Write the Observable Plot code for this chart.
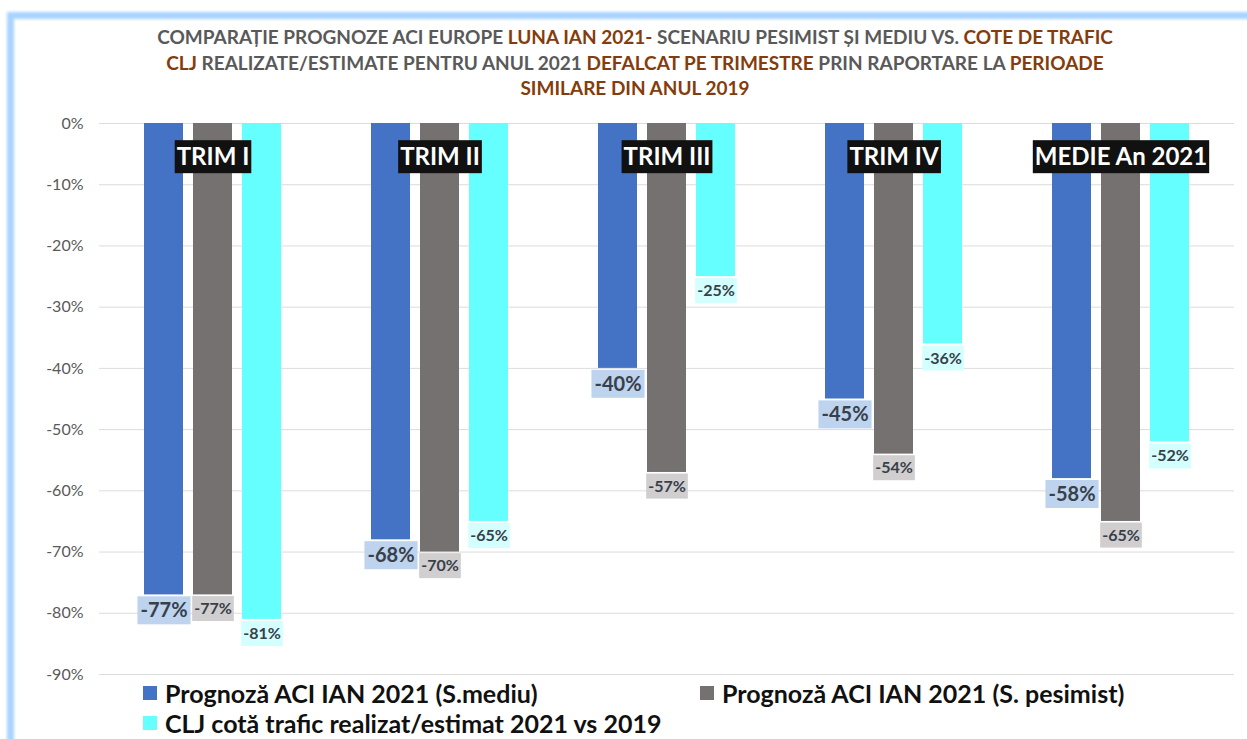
<!DOCTYPE html>
<html>
<head>
<meta charset="utf-8">
<script src="https://cdn.jsdelivr.net/npm/d3@7"></script>
<script src="https://cdn.jsdelivr.net/npm/@observablehq/plot@0.6"></script>
<style>
  html, body { margin: 0; padding: 0; background: #fff; overflow: hidden; width: 1247px; height: 739px; }
  #frame { position: absolute; left: 7px; top: 12px; width: 1400px; height: 900px;
           border-left: 7px solid #A9D3FF; border-top: 7px solid #A9D3FF; filter: blur(1.5px); }
  #title { position: absolute; left: 14px; top: 24px; width: 1242px; text-align: center;
           font-family: Lato, sans-serif; font-weight: 700; font-size: 19px; line-height: 25.5px;
           color: #595959; }
  #title .ln { display: inline-block; white-space: nowrap; }
  #title .hl { color: #843C0C; }
  #chart { position: absolute; left: 0; top: 110px; }
  #legend { position: absolute; left: 143px; top: 678px; display: grid;
            grid-template-columns: 557px auto; font-family: Lato, sans-serif; font-weight: 700;
            font-size: 25px; line-height: 30px; color: #111; }
  #legend .it { display: flex; align-items: center; white-space: nowrap; }
  #legend .sw { width: 14px; height: 14px; margin-right: 8px; flex: none; }
</style>
</head>
<body>
<div id="frame"></div>
<div id="title"></div>
<div id="chart"></div>
<div id="legend"></div>
<script>
// ---- data ----
const categories = ["TRIM I", "TRIM II", "TRIM III", "TRIM IV", "MEDIE An 2021"];
const series = [
  "Prognoză ACI IAN 2021 (S.mediu)",
  "Prognoză ACI IAN 2021 (S. pesimist)",
  "CLJ cotă trafic realizat/estimat 2021 vs 2019"
];
const mediu    = [-77, -68, -40, -45, -58];
const pesimist = [-77, -70, -57, -54, -65];
const clj      = [-81, -65, -25, -36, -52];
const yTicks = [0, -10, -20, -30, -40, -50, -60, -70, -80, -90];
const seriesColors = ["#4472C4", "#767171", "#66FFFF"];
const labelFills = ["#BDD3EE", "#D0CECE", "#D3FFFF"];
const titleLines = [
  [["COMPARAȚIE PROGNOZE ACI EUROPE ", false], ["LUNA IAN 2021-", true], [" SCENARIU PESIMIST ȘI MEDIU VS. ", false], ["COTE DE TRAFIC", true]],
  [["CLJ", true], [" REALIZATE/ESTIMATE PENTRU ANUL 2021 ", false], ["DEFALCAT PE TRIMESTRE", true], [" PRIN RAPORTARE LA ", false], ["PERIOADE", true]],
  [["SIMILARE DIN ANUL 2019", true]]
];

const valuesBySeries = [mediu, pesimist, clj];
const data = categories.flatMap((c, i) => series.map((s, k) => ({cat: c, s, k, v: valuesBySeries[k][i]})));

// ---- title ----
const titleEl = document.getElementById("title");
titleLines.forEach(line => {
  const d = document.createElement("div");
  const sp = document.createElement("span");
  sp.className = "ln";
  line.forEach(([t, hl]) => {
    const s = document.createElement("span");
    if (hl) s.className = "hl";
    s.textContent = t;
    sp.appendChild(s);
  });
  d.appendChild(sp);
  titleEl.appendChild(d);
});

// ---- chart ----
const labelSpec = [
  {fontSize: 20, dy: 16, h: 28, padX: 2},
  {fontSize: 16, dy: 14, h: 25, padX: 2},
  {fontSize: 16, dy: 14.5, h: 25, padX: 2}
];

const plot = Plot.plot({
  width: 1247,
  height: 580,
  marginLeft: 98,
  marginRight: 12,
  marginTop: 13,
  marginBottom: 16,
  style: {fontFamily: "Lato, sans-serif", background: "transparent"},
  fx: {domain: categories, padding: 0, axis: null},
  x: {domain: series, paddingInner: 0.2, paddingOuter: 0.874, axis: null},
  y: {domain: [-90, 0]},
  color: {domain: series, range: seriesColors},
  marks: [
    Plot.ruleY(yTicks, {stroke: "#DCDCDC", strokeWidth: 1}),
    Plot.axisY({ticks: yTicks, tickSize: 0, tickPadding: 16, tickFormat: d => `${d}%`,
                fontSize: 16, color: "#595959", label: null}),
    Plot.barY(data, {fx: "cat", x: "s", y: "v", fill: "s"}),
    ...series.map((s, k) => Plot.text(data.filter(d => d.k === k), {
      fx: "cat", x: "s", y: "v", text: d => `${d.v}%`,
      dy: labelSpec[k].dy, lineAnchor: "middle",
      fontSize: labelSpec[k].fontSize, fontWeight: 700, fill: "#38404A",
      className: `vlab-${k}`
    })),
    Plot.text(categories, {fx: d => d, text: d => d, frameAnchor: "top", dy: 34,
      lineAnchor: "middle", fontSize: 24, fontWeight: 700, fill: "#FFFFFF", className: "catlab"})
  ]
});
document.getElementById("chart").appendChild(plot);

const svgNS = "http://www.w3.org/2000/svg";
const bw = plot.scale("x").bandwidth;
function addBoxes(cls, fill, minW, padX, h) {
  plot.querySelectorAll(`g.${cls} text`).forEach(t => {
    const b = t.getBBox();
    const w = Math.max(minW, b.width + 2 * padX);
    const r = document.createElementNS(svgNS, "rect");
    r.setAttribute("x", b.x + b.width / 2 - w / 2);
    r.setAttribute("y", b.y + b.height / 2 - h / 2 + 1);
    r.setAttribute("width", w);
    r.setAttribute("height", h);
    r.setAttribute("fill", fill);
    const tr = t.getAttribute("transform");
    if (tr) r.setAttribute("transform", tr);
    t.parentNode.insertBefore(r, t);
  });
}
series.forEach((s, k) => addBoxes(`vlab-${k}`, labelFills[k], bw, labelSpec[k].padX + (k === 0 ? 1 : 0), labelSpec[k].h));
addBoxes("catlab", "#111111", 0, 2, 33);

// ---- legend ----
const legendEl = document.getElementById("legend");
series.forEach((s, k) => {
  const it = document.createElement("div");
  it.className = "it";
  const sw = document.createElement("span");
  sw.className = "sw";
  sw.style.background = seriesColors[k];
  const tx = document.createElement("span");
  tx.textContent = s;
  it.appendChild(sw);
  it.appendChild(tx);
  legendEl.appendChild(it);
});
</script>
</body>
</html>
